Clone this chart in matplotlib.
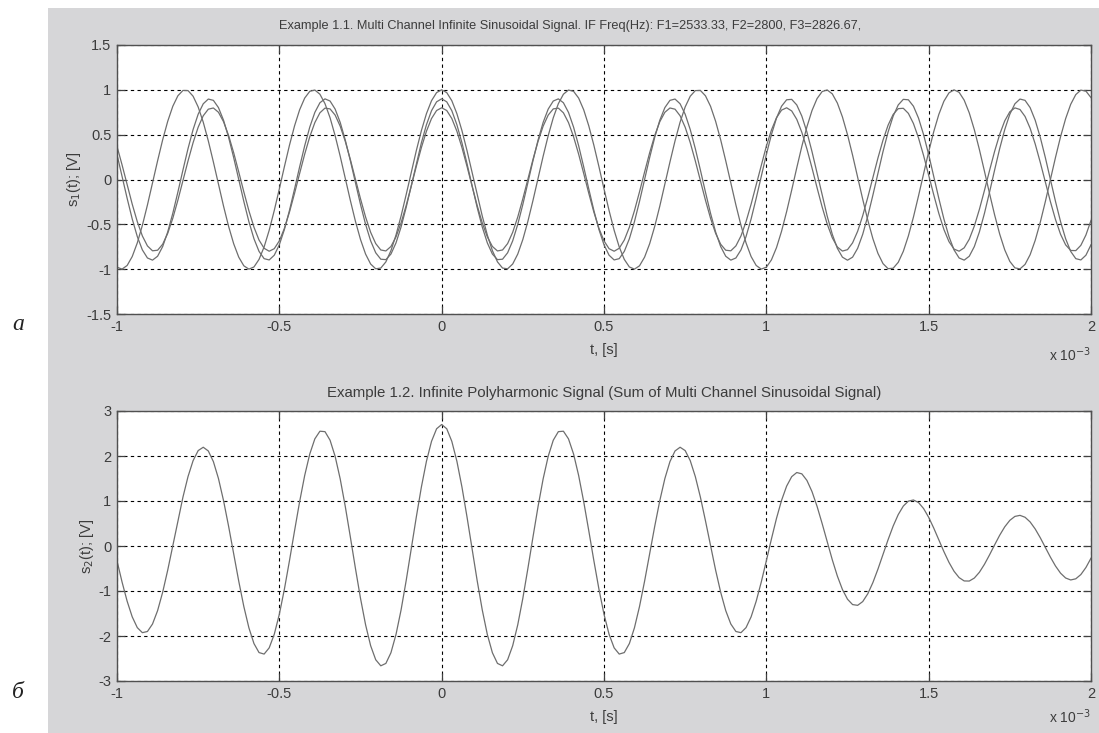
import numpy as np
import matplotlib
matplotlib.use("Agg")
import matplotlib.pyplot as plt
from matplotlib.patches import Rectangle
from matplotlib.ticker import FixedLocator, FuncFormatter

# Channel parameters
freqs_hz = [2533.33, 2800.0, 2826.67]
amplitudes = [1.0, 0.9, 0.8]
t_start, t_stop = -1e-3, 2e-3
sample_rate = 64000.0

x_ticks = [-1e-3, -0.5e-3, 0.0, 0.5e-3, 1e-3, 1.5e-3, 2e-3]
y_ticks_top = [-1.5, -1, -0.5, 0, 0.5, 1, 1.5]
y_ticks_bottom = [-3, -2, -1, 0, 1, 2, 3]

title_top = ("Example 1.1. Multi Channel Infinite Sinusoidal Signal. IF Freq(Hz): "
             "F1=2533.33, F2=2800, F3=2826.67,")
title_bottom = "Example 1.2. Infinite Polyharmonic Signal (Sum of Multi Channel Sinusoidal Signal)"

t = np.arange(t_start, t_stop + 0.5 / sample_rate, 1.0 / sample_rate)
channels = [a * np.cos(2 * np.pi * f * t) for f, a in zip(freqs_hz, amplitudes)]
poly = np.sum(channels, axis=0)

W, H = 1099, 733
fig = plt.figure(figsize=(W / 100, H / 100), dpi=100, facecolor="white")

FONT = ["Liberation Sans", "DejaVu Sans"]
TXT = "#3c3c3c"
LINE = "#6e6e6e"
BG = "#d6d6d8"

fig.patches.append(Rectangle((48 / W, 0), 1 - 48 / W, 1 - 8 / H,
                             transform=fig.transFigure, facecolor=BG,
                             edgecolor="none", zorder=-10))


def px_axes(left, top, right, bottom):
    return fig.add_axes([left / W, 1 - bottom / H, (right - left) / W, (bottom - top) / H])


def style(ax, yticks, ylim, ylabel, exp_offset_px):
    ax.set_facecolor("white")
    ax.set_xlim(t_start, t_stop)
    ax.set_ylim(*ylim)
    ax.xaxis.set_major_locator(FixedLocator(x_ticks))
    ax.xaxis.set_major_formatter(FuncFormatter(lambda v, p: f"{v * 1e3:g}"))
    ax.yaxis.set_major_locator(FixedLocator(yticks))
    ax.yaxis.set_major_formatter(FuncFormatter(lambda v, p: f"{v:g}"))
    ax.tick_params(direction="in", length=6, width=0.9, top=True, right=True,
                   colors="#404040", labelcolor=TXT, labelsize=10.5, pad=4)
    for lab in ax.get_xticklabels() + ax.get_yticklabels():
        lab.set_family(FONT)
    for s in ax.spines.values():
        s.set_color("#505050")
        s.set_linewidth(1.0)
    ax.grid(True, color="black", linestyle=(0, (3, 3)), linewidth=0.8)
    ax.set_axisbelow(True)
    ax.set_xlabel("t, [s]", family=FONT, fontsize=10.5, color=TXT, labelpad=7)
    ax.set_ylabel(ylabel, family=FONT, fontsize=10.5, color=TXT, labelpad=2)
    h = ax.get_position().height * H
    ax.text(1.0, -exp_offset_px / h, r"x 10$^{-3}$", transform=ax.transAxes,
            ha="right", va="center", family=FONT, fontsize=10, color=TXT)


ax1 = px_axes(117, 45, 1091, 314)
for ch in channels:
    ax1.plot(t, ch, color=LINE, linewidth=0.9)
style(ax1, y_ticks_top, (-1.5, 1.5), r"s$_1$(t); [V]", 41)
fig.text(570 / W, 1 - 26 / H, title_top, family=FONT, fontsize=9.2,
         color=TXT, ha="center", va="center")

ax2 = px_axes(117, 411, 1091, 681)
ax2.plot(t, poly, color=LINE, linewidth=0.9)
style(ax2, y_ticks_bottom, (-3, 3), r"s$_2$(t); [V]", 36)
ax2.set_title(title_bottom, family=FONT, fontsize=10.8, color=TXT, pad=10)

fig.text(18 / W, 1 - 325 / H, "а", family=["Liberation Serif", "DejaVu Serif"],
         style="italic", fontsize=17, ha="center", va="center", color="#222222")
fig.text(18 / W, 1 - 692 / H, "б", family=["Liberation Serif", "DejaVu Serif"],
         style="italic", fontsize=17, ha="center", va="center", color="#222222")

fig.savefig("out.png", dpi=100, facecolor="white")
